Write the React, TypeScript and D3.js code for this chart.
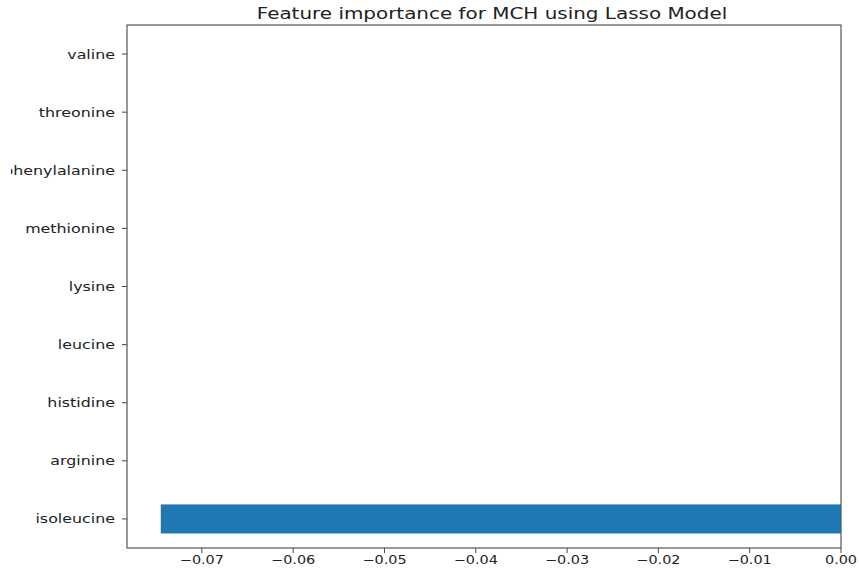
import React from "react";
import * as d3 from "d3";

const categories = ["isoleucine", "arginine", "histidine", "leucine", "lysine", "methionine", "phenylalanine", "threonine", "valine"];
const values = [-0.0745, 0, 0, 0, 0, 0, 0, 0, 0];
const xTicks = [-0.07, -0.06, -0.05, -0.04, -0.03, -0.02, -0.01, 0.0];
const title = "Feature importance for MCH using Lasso Model";

const W = 859, H = 569;
const M = { left: 127, right: 841, top: 25, bottom: 548 };
const SX = 1.22;

export default function App() {
  const x = d3.scaleLinear().domain([-0.0782, 0]).range([M.left, M.right]);
  const y = d3.scaleLinear().domain([-0.5, categories.length - 0.5]).range([M.bottom, M.top]);
  const barH = (y(0) - y(0.5));
  const fmt = (v: number) => (v < 0 ? "\u2212" : "") + Math.abs(v).toFixed(2);
  const font = "DejaVu Sans, sans-serif";
  return (
    <svg width={W} height={H} style={{ position: "absolute", left: 0, top: 0, background: "#fff" }}>
      <defs>
        <clipPath id="labelClip">
          <rect x={11} y={0} width={W} height={H} />
        </clipPath>
      </defs>
      <text transform={`translate(${492},${19}) scale(1.33,1)`} textAnchor="middle" fontFamily={font} fontSize={15} fill="#222">{title}</text>
      {categories.map((c, i) => {
        const v = values[i];
        const x0 = x(Math.min(0, v));
        const x1 = x(Math.max(0, v));
        return (
          <g key={c}>
            {v !== 0 && <rect x={x0} y={y(i) - barH / 2} width={x1 - x0} height={barH} fill="#1f77b4" />}
            <line x1={M.left - 5} x2={M.left} y1={y(i)} y2={y(i)} stroke="#444" strokeWidth={1} />
            <g clipPath="url(#labelClip)">
              <text transform={`translate(${M.left - 12},${y(i)}) scale(${SX},1)`} dy="0.35em" textAnchor="end" fontFamily={font} fontSize={13} fill="#222">{c}</text>
            </g>
          </g>
        );
      })}
      {xTicks.map((t) => (
        <g key={t}>
          <line x1={x(t)} x2={x(t)} y1={M.bottom} y2={M.bottom + 5} stroke="#444" strokeWidth={1} />
          <text transform={`translate(${x(t)},${M.bottom + 15.5}) scale(1.2,1)`} textAnchor="middle" fontFamily={font} fontSize={12} fill="#222">{fmt(t)}</text>
        </g>
      ))}
      <rect x={M.left} y={M.top} width={M.right - M.left} height={M.bottom - M.top} fill="none" stroke="#555" strokeWidth={1.2} />
    </svg>
  );
}
